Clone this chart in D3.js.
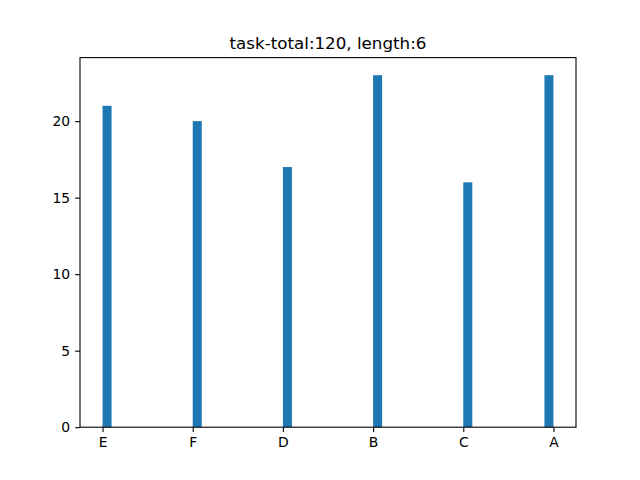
<!DOCTYPE html>
<html>
<head>
<meta charset="utf-8">
<script src="https://cdn.jsdelivr.net/npm/d3@7"></script>
<style>
  html, body { margin:0; padding:0; background:#fff; }
  svg text { font-family:"DejaVu Sans", sans-serif; fill:#000; }
</style>
</head>
<body>
<div id="chart"></div>
<script>
"use strict";
// histogram of string categories, 50 bins over [0,5] like matplotlib hist
const categories = ["E","F","D","B","C","A"];
const counts = [21, 20, 17, 23, 16, 23];
const yTicks = [0, 5, 10, 15, 20];
const title = "task-total:120, length:6";

const W = 640, H = 480;
const L = 80, R = 576, T = 57.6, B = 427.2;
const NBINS = 50, lo = 0, hi = categories.length - 1, bw = (hi - lo) / NBINS;

const svg = d3.select("#chart").append("svg").attr("width", W).attr("height", H);
const x = d3.scaleLinear().domain([lo - 0.05*(hi-lo), hi + 0.05*(hi-lo)]).range([L, R]);
const y = d3.scaleLinear().domain([0, d3.max(counts) * 1.05]).range([B, T]);

// each category lands in its bin (last edge is closed, so last category falls in last bin)
const bars = categories.map((c, i) => {
  const k = Math.min(NBINS - 1, Math.floor((i - lo) / bw + 1e-9));
  return { c, v: counts[i], x0: lo + k*bw, x1: lo + (k+1)*bw };
});

svg.append("g").selectAll("rect").data(bars).join("rect")
  .attr("x", (d) => x(d.x0)).attr("width", (d) => x(d.x1) - x(d.x0))
  .attr("y", (d) => y(d.v)).attr("height", (d) => y(0) - y(d.v))
  .attr("fill", "#1f77b4");

const xAxis = d3.axisBottom(x).tickValues(d3.range(categories.length))
  .tickFormat((i) => categories[i]).tickSize(4.9).tickPadding(4.9);
const gx = svg.append("g").attr("transform", `translate(0,${B})`).call(xAxis);
const yAxis = d3.axisLeft(y).tickValues(yTicks).tickSize(4.9).tickPadding(4.9);
const gy = svg.append("g").attr("transform", `translate(${L},0)`).call(yAxis);
[gx, gy].forEach((g) => {
  g.select(".domain").remove();
  g.selectAll(".tick line").attr("stroke", "#000").attr("stroke-width", 1.1);
  g.selectAll(".tick text").attr("font-size", 13.9).attr("font-family", "DejaVu Sans");
});

// spines
svg.append("rect").attr("x", L).attr("y", T).attr("width", R - L).attr("height", B - T)
  .attr("fill", "none").attr("stroke", "#000").attr("stroke-width", 1.1);

svg.append("text").attr("x", (L + R) / 2).attr("y", T - 9).attr("text-anchor", "middle")
  .attr("font-size", 16.7).text(title);
</script>
</body>
</html>
